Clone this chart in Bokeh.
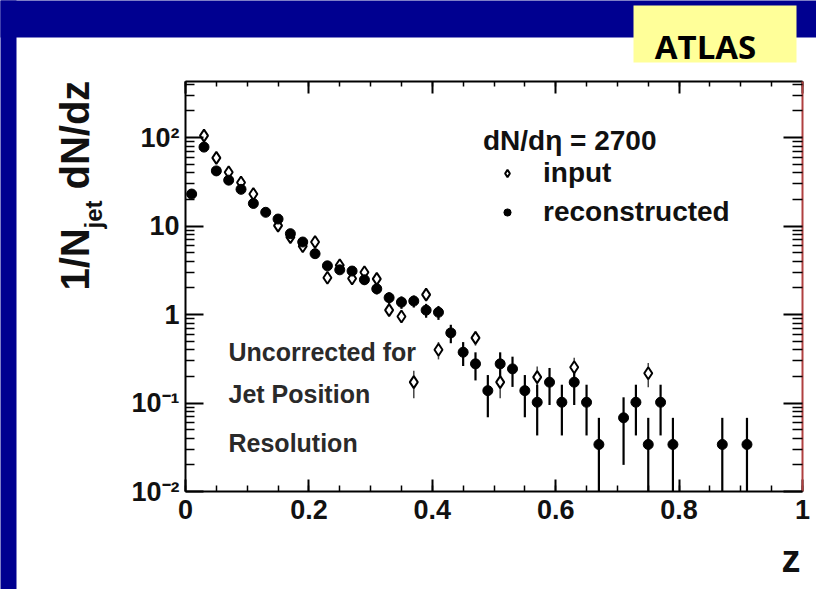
import numpy as np
from bokeh.plotting import figure
from bokeh.models import (LinearAxis, LogAxis, LogScale, FixedTicker, Label, BoxAnnotation,
                          Legend, LegendItem, CustomJSTickFormatter)
from bokeh.embed import file_html
from bokeh.resources import INLINE

# ---------------- data ----------------
z_reco = [0.01, 0.03, 0.05, 0.07, 0.09, 0.11, 0.13, 0.15, 0.17, 0.19,
          0.21, 0.23, 0.25, 0.27, 0.29, 0.31, 0.33, 0.35, 0.37, 0.39,
          0.41, 0.43, 0.45, 0.47, 0.49, 0.51, 0.53, 0.55, 0.57, 0.59,
          0.61, 0.63, 0.65, 0.67, 0.71, 0.73, 0.75, 0.77, 0.79, 0.87, 0.91]
v_reco = [23, 78, 42, 33, 26, 18, 14.3, 12, 8.2, 6.6,
          4.87, 3.55, 3.2, 3.1, 2.47, 1.95, 1.55, 1.38, 1.42, 1.12,
          1.06, 0.62, 0.375, 0.277, 0.138, 0.277, 0.243, 0.138, 0.102, 0.172,
          0.102, 0.172, 0.102, 0.034, 0.068, 0.102, 0.034, 0.102, 0.034, 0.034, 0.034]
e_reco = [0.89, 1.63, 1.20, 1.06, 0.94, 0.78, 0.70, 0.64, 0.53, 0.48,
          0.41, 0.35, 0.33, 0.33, 0.29, 0.26, 0.23, 0.22, 0.22, 0.20,
          0.19, 0.146, 0.113, 0.097, 0.069, 0.097, 0.091, 0.069, 0.059, 0.077,
          0.059, 0.077, 0.059, 0.034, 0.048, 0.059, 0.034, 0.059, 0.034, 0.034, 0.034]

z_input = [0.03, 0.05, 0.07, 0.09, 0.11, 0.15, 0.17, 0.19, 0.21, 0.23,
           0.25, 0.27, 0.29, 0.31, 0.33, 0.35, 0.37, 0.39, 0.41, 0.47,
           0.51, 0.57, 0.63, 0.75]
v_input = [105, 59, 40.5, 31, 23, 10.1, 7.5, 5.9, 6.6, 2.6,
           3.6, 2.55, 3.0, 2.53, 1.12, 0.95, 0.172, 1.68, 0.40, 0.545,
           0.172, 0.196, 0.254, 0.217]
e_input = [1.45, 1.09, 0.90, 0.79, 0.68, 0.45, 0.39, 0.34, 0.36, 0.23,
           0.27, 0.23, 0.24, 0.22, 0.15, 0.14, 0.059, 0.18, 0.089, 0.10,
           0.059, 0.063, 0.071, 0.066]

x_ticks = [0.0, 0.2, 0.4, 0.6, 0.8, 1.0]
x_tick_labels = ["0", "0.2", "0.4", "0.6", "0.8", "1"]
y_ticks = [0.01, 0.1, 1, 10, 100]
y_tick_labels = ["10\u207b\u00b2", "10\u207b\u00b9", "1", "10", "10\u00b2"]
legend_title = "dN/d\u03b7 = 2700"
series_names = ["input", "reconstructed"]
note_lines = ["Uncorrected for", "Jet Position", "Resolution"]

# ---------------- layout constants (pixels) ----------------
W, H = 816, 589
BOX_L, BOX_R, BOX_T, BOX_B = 185, 802, 81, 491      # plot box inside the canvas
x_lo, x_hi = 0.0, 1.0
y_lo, y_hi = 0.01, 430.0
BLUE = "#000090"
FONT = "Liberation Sans"
BASE = 0.35   # label anchor correction (fraction of font size) for Liberation Sans

xpp = (x_hi - x_lo) / (BOX_R - BOX_L)
ly_lo, ly_hi = np.log10(y_lo), np.log10(y_hi)
lpp = (ly_hi - ly_lo) / (BOX_B - BOX_T)
xr = (x_lo - BOX_L * xpp, x_hi + (W - BOX_R) * xpp)
yr = (10 ** (ly_lo - (H - BOX_B) * lpp), 10 ** (ly_hi + BOX_T * lpp))

p = figure(width=W, height=H, x_range=xr, y_range=yr, y_axis_type="log",
           x_axis_location=None, y_axis_location=None,
           output_backend="svg", toolbar_location=None, min_border=0)
p.y_scale = LogScale()
p.xgrid.visible = False
p.ygrid.visible = False
p.outline_line_color = None
p.background_fill_color = "white"
p.border_fill_color = "white"

x_minor = [round(i * 0.05, 2) for i in range(21)]
y_minor = [m * 10.0 ** k for k in range(-2, 3) for m in range(2, 10) if m * 10.0 ** k <= y_hi]
xt = FixedTicker(ticks=x_ticks, minor_ticks=x_minor)
yt = FixedTicker(ticks=y_ticks, minor_ticks=y_minor)
blank = CustomJSTickFormatter(code="return ''")

bottom_ax = LinearAxis(ticker=xt, fixed_location=y_lo, bounds=(x_lo, x_hi))
top_ax = LinearAxis(ticker=xt, fixed_location=y_hi, bounds=(x_lo, x_hi), formatter=blank)
left_ax = LogAxis(ticker=yt, fixed_location=x_lo, bounds=(y_lo, y_hi))
right_ax = LogAxis(ticker=yt, fixed_location=x_hi, bounds=(y_lo, y_hi), formatter=blank)
bottom_ax.major_label_overrides = dict(zip(x_ticks, x_tick_labels))
left_ax.major_label_overrides = dict(zip(y_ticks, y_tick_labels))
p.add_layout(bottom_ax, "below")
p.add_layout(top_ax, "above")
p.add_layout(left_ax, "left")
p.add_layout(right_ax, "right")

for ax, mj, mn in [(bottom_ax, 12, 6), (top_ax, 12, 5), (left_ax, 18, 9), (right_ax, 19, 10)]:
    ax.axis_line_color = "black"
    ax.axis_line_width = 2
    ax.major_tick_in = mj
    ax.major_tick_out = 0
    ax.minor_tick_in = mn
    ax.minor_tick_out = 0
    ax.major_tick_line_color = "black"
    ax.minor_tick_line_color = "black"
    ax.major_tick_line_width = 2
    ax.minor_tick_line_width = 1.5
    ax.major_label_text_font = FONT
    ax.major_label_text_font_style = "bold"
    ax.major_label_text_font_size = "27px"
    ax.major_label_text_color = "#111111"
right_ax.axis_line_color = "#b04040"
bottom_ax.major_label_standoff = 8
left_ax.major_label_standoff = 6

# ---------------- data marks ----------------
vr = np.array(v_reco); er = np.array(e_reco)
vi = np.array(v_input); ei = np.array(e_input)
p.segment(x0=z_input, y0=np.maximum(vi - ei, y_lo), x1=z_input, y1=vi + ei,
          line_color="#444444", line_width=1.5)
p.segment(x0=z_reco, y0=np.maximum(vr - er, y_lo), x1=z_reco, y1=vr + er,
          line_color="black", line_width=2.2)
r_in = p.scatter(z_input, v_input, marker="diamond", size=12, fill_color="white",
                 line_color="black", line_width=2)
r_re = p.scatter(z_reco, v_reco, marker="circle", size=10, fill_color="black",
                 line_color="black", line_width=1)

legend = Legend(items=[LegendItem(label=series_names[0], renderers=[r_in]),
                       LegendItem(label=series_names[1], renderers=[r_re])],
                title=legend_title, location=(483, 361),
                border_line_color=None, background_fill_alpha=0,
                padding=0, margin=0, spacing=7, glyph_width=48, glyph_height=18,
                label_standoff=12, label_height=30, title_standoff=0,
                label_text_font=FONT, label_text_font_style="bold",
                label_text_font_size="28px", label_text_color="#111111",
                title_text_font=FONT, title_text_font_style="bold",
                title_text_font_size="28px", title_text_color="#111111")
p.add_layout(legend)

# ---------------- decorations (screen px from the canvas bottom-left) ----------------
def box(l, r, b, t, color):
    p.add_layout(BoxAnnotation(left=l, right=r, bottom=b, top=t,
                               left_units="screen", right_units="screen",
                               bottom_units="screen", top_units="screen",
                               fill_color=color, fill_alpha=1, line_color=None))

def text(txt, x, y_base, fs, font=FONT, align="left", angle=0.0, color="#111111", base=BASE):
    # x, y_base: baseline position in canvas px (y from top)
    if angle == 0.0:
        sx, sy = x, H - y_base + base * fs
    else:   # rotated 90 deg: baseline is a vertical line at x
        sx, sy = x - base * fs, H - y_base
    p.add_layout(Label(x=sx, y=sy, x_units="screen", y_units="screen", text=txt,
                       angle=angle, text_font=font, text_font_style="bold",
                       text_font_size=f"{fs}px", text_color=color, text_align=align,
                       text_baseline="alphabetic"))

box(-30, W + 30, H - 37, H + 30, BLUE)   # top banner
box(-30, 16, -30, H + 30, BLUE)          # left strip
box(633, 796, H - 62, H - 5, "#FFFF99")  # ATLAS tag
text("ATLAS", 705, 59, 33, font="Open Sans", align="center", color="black", base=0.39)

# y axis title: 1/N_jet dN/dz (rotated, reading upwards)
text("1/N", 88, 290, 40, angle=np.pi / 2)
text("jet", 101, 228, 24, angle=np.pi / 2)
text("dN/dz", 88, 189, 40, angle=np.pi / 2)
# x axis title
text("z", 800, 572, 38, align="right")

for txt, ry in zip(note_lines, [360, 402, 451]):
    text(txt, 228, ry, 25, color="#2a2a2a")

open("out.html", "w").write(file_html(p, INLINE))
